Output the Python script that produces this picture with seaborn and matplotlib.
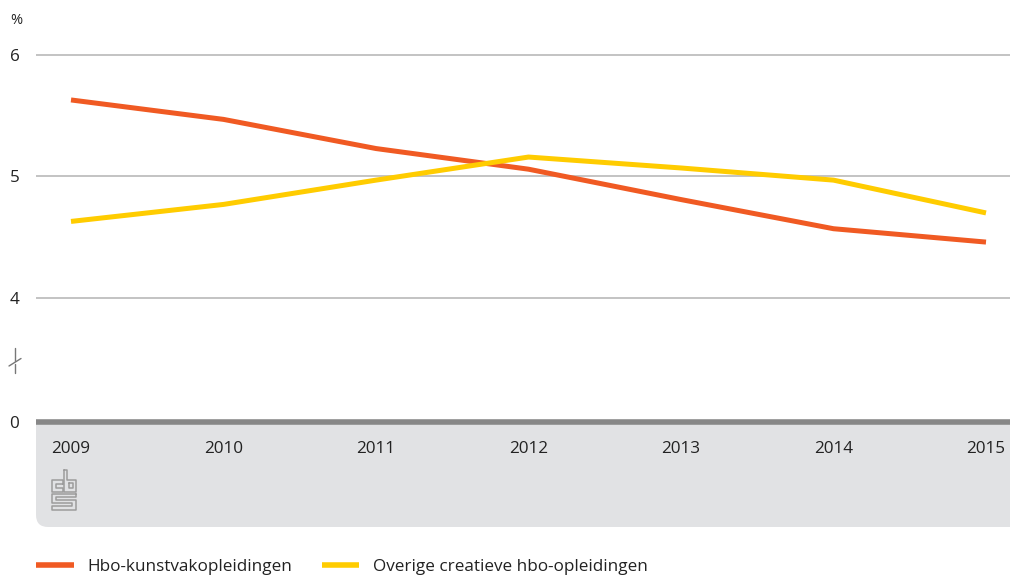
import pandas as pd
import numpy as np
import seaborn as sns
import matplotlib.pyplot as plt
from matplotlib.patches import FancyBboxPatch
from matplotlib.lines import Line2D

# data (percent)
years = [2009, 2010, 2011, 2012, 2013, 2014, 2015]
kunstvak = [5.63, 5.47, 5.23, 5.06, 4.81, 4.57, 4.46]
overig = [4.63, 4.77, 4.97, 5.16, 5.07, 4.97, 4.70]
series_names = ["Hbo-kunstvakopleidingen", "Overige creatieve hbo-opleidingen"]
colors = ["#f05a23", "#ffcc00"]

# broken axis: everything between 0 and ~3 is cut away
axis_floor = 2.979
ytick_vals = [axis_floor, 4, 5, 6]
ytick_labels = ["0", "4", "5", "6"]

df = pd.DataFrame({
    "jaar": years * 2,
    "waarde": kunstvak + overig,
    "reeks": [series_names[0]] * len(years) + [series_names[1]] * len(years),
})

sns.set_style("white")
plt.rcParams['font.family'] = ['Open Sans', 'DejaVu Sans']
FS = 12.3

W, H = 1010, 576
fig = plt.figure(figsize=(W / 100, H / 100), dpi=100)

def fx(px):
    return px / W

def fy(py):
    return 1 - py / H

# grey footer panel under the x axis
panel = FancyBboxPatch((fx(36), fy(527)), fx(1100) - fx(36), fy(405) - fy(527),
                       boxstyle="round,pad=0,rounding_size=0.012",
                       transform=fig.transFigure, facecolor="#e1e2e4",
                       edgecolor="none", zorder=0, mutation_aspect=W / H)
fig.patches.append(panel)

ax = fig.add_axes([fx(36), fy(422), fx(1010) - fx(36), fy(40) - fy(422)])
ax.set_facecolor("white")
ax.set_zorder(1)

sns.lineplot(data=df, x="jaar", y="waarde", hue="reeks", palette=colors,
             linewidth=3.6, ax=ax, legend=False)
for ln in ax.lines:
    ln.set_solid_capstyle("butt")
    ln.set_solid_joinstyle("round")
    ln.set_zorder(3)

ax.set_xlim(2009 - 35 / 152.5, 2015 + 24 / 152.5)
ax.set_ylim(axis_floor, 6 + 15 / 121.5)

for v in [4, 5, 6]:
    ax.axhline(v, color="#b3b3b3", linewidth=1.1, zorder=1)

for s in ["top", "right", "left"]:
    ax.spines[s].set_visible(False)
ax.spines["bottom"].set_color("#878787")
ax.spines["bottom"].set_linewidth(4)
ax.spines["bottom"].set_capstyle("butt")
ax.spines["bottom"].set_zorder(4)

ax.set_xticks(years)
ax.set_xticklabels([str(y) for y in years])
ax.tick_params(axis="x", direction="out", length=7, width=1, color="#9a9a9a",
               pad=6.5, labelsize=FS, labelcolor="#222222")
ax.set_yticks(ytick_vals)
ax.set_yticklabels(ytick_labels)
ax.tick_params(axis="y", length=0, pad=19, labelsize=FS, labelcolor="#222222")
for lbl in ax.get_yticklabels():
    lbl.set_horizontalalignment("left")
ax.set_xlabel("")
ax.set_ylabel("")

fig.text(fx(10), fy(20), "%", fontsize=10.5, va="center", ha="left", color="#222222")

# axis break mark
brk = dict(color="#777777", linewidth=1, transform=fig.transFigure)
fig.lines.append(Line2D([fx(14.5), fx(14.5)], [fy(348), fy(361)], **brk))
fig.lines.append(Line2D([fx(9), fx(21)], [fy(366), fy(358.5)], **brk))
fig.lines.append(Line2D([fx(14.5), fx(14.5)], [fy(363.5), fy(373)], **brk))

# small cbs logo in the footer
logo = dict(color="#9c9c9c", linewidth=1.1, transform=fig.transFigure, zorder=2)
c_shape = [(63, 484), (63, 480), (52, 480), (52, 492), (63, 492), (63, 488),
           (56, 488), (56, 484), (63, 484)]
b_shape = [(64, 470), (67, 470), (67, 480), (76, 480), (76, 492), (64, 492),
           (64, 470)]
b_in = [(69, 483), (73, 483), (73, 488), (69, 488), (69, 483)]
s_shape = [(76, 494), (52, 494), (52, 503), (72, 503), (72, 506), (52, 506),
           (52, 510), (76, 510), (76, 500), (56, 500), (56, 497), (76, 497),
           (76, 494)]
for path in [c_shape, b_shape, b_in, s_shape]:
    xs = [fx(p[0]) for p in path]
    ys = [fy(p[1]) for p in path]
    fig.lines.append(Line2D(xs, ys, **logo))

handles = [Line2D([], [], color=c, linewidth=4, solid_capstyle="butt") for c in colors]
fig.legend(handles, series_names, loc="center left",
           bbox_to_anchor=(fx(21), fy(567)), ncol=2, frameon=False,
           handlelength=2.2, handletextpad=0.8, columnspacing=1.7,
           fontsize=FS, labelcolor="#222222")

fig.savefig("out.png", dpi=100)
